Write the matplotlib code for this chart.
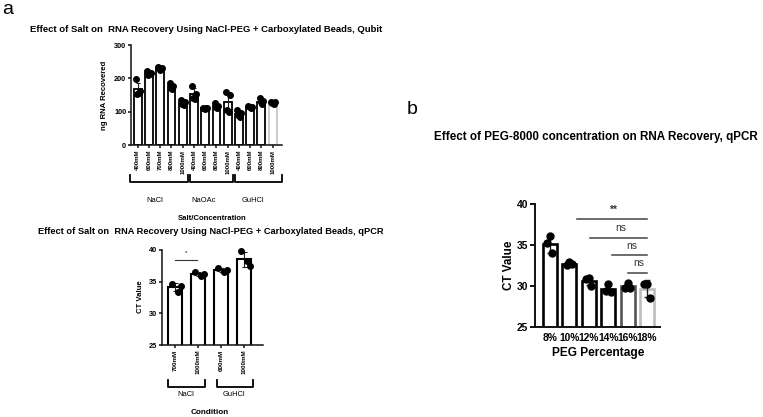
import numpy as np
import matplotlib
matplotlib.use("Agg")
import matplotlib.pyplot as plt
import matplotlib.transforms as mtransforms

plt.rcParams['font.family'] = ['Liberation Sans', 'DejaVu Sans']

# ---------------- data ----------------
qubit_labels = ["400mM", "600mM", "700mM", "800mM", "1000mM",
                "400mM", "600mM", "800mM", "1000mM",
                "400mM", "600mM", "800mM", "1000mM"]
qubit_groups = ["NaCl", "NaOAc", "GuHCl"]
qubit_points = [
    [197, 162, 152, 157],
    [221, 216, 210, 212],
    [235, 230, 224, 227],
    [186, 178, 172, 168],
    [135, 128, 124, 121],
    [178, 152, 140, 138],
    [112, 110, 108, 110],
    [125, 118, 115, 112],
    [158, 150, 105, 100],
    [104, 95, 90, 85],
    [118, 115, 113, 112],
    [140, 132, 128, 122],
    [130, 128, 126, 124],
]

qpcr_labels = ["700mM", "1000mM", "600mM", "1000mM"]
qpcr_groups = ["NaCl", "GuHCl"]
qpcr_points = [
    [34.6, 33.4, 34.3],
    [36.6, 35.9, 36.2],
    [37.2, 36.6, 36.9],
    [39.8, 38.3, 37.5],
]

peg_labels = ["8%", "10%", "12%", "14%", "16%", "18%"]
peg_points = [
    [36.1, 35.3, 34.0],
    [32.9, 32.6, 32.7],
    [31.0, 30.8, 30.0],
    [30.3, 29.4, 29.3],
    [30.4, 29.8, 29.7],
    [30.3, 30.2, 28.5],
]
peg_sig_labels = ["**", "ns", "ns", "ns"]

# ---------------- figure ----------------
W, H = 763, 417
fig = plt.figure(figsize=(W / 100, H / 100), dpi=100)


def add_ax(x0, x1, ytop, ybot):
    return fig.add_axes([x0 / W, 1 - ybot / H, (x1 - x0) / W, (ybot - ytop) / H])


def ftext(x, y, s, **kw):
    fig.text(x / W, 1 - y / H, s, **kw)


def style(ax, lw=1.1):
    for sp in ["top", "right"]:
        ax.spines[sp].set_visible(False)
    for sp in ["left", "bottom"]:
        ax.spines[sp].set_linewidth(lw)
        ax.spines[sp].set_color("#111111")
    ax.tick_params(direction="out", width=lw, length=2.5, color="#111111", pad=1)


def draw_bars(ax, points, width, edgecolors, offsets, ms, lw, elw, cap):
    pts = [np.asarray(p, float) for p in points]
    means = [p.mean() for p in pts]
    sds = [p.std(ddof=1) for p in pts]
    x = np.arange(len(pts))
    ax.bar(x, means, width=width, color="white", edgecolor=edgecolors,
           linewidth=lw, zorder=2)
    for i, p in enumerate(pts):
        ax.errorbar(x[i], means[i], yerr=sds[i], fmt="none", ecolor="#222222",
                    elinewidth=elw, capsize=cap, capthick=elw, zorder=3)
        offs = offsets[:len(p)]
        ax.plot(x[i] + np.array(offs), p, "o", color="black", ms=ms,
                mec="black", zorder=4, clip_on=False)
    return x


def bracket(ax, x0, x1, y, yup, lw=1.1):
    tr = mtransforms.blended_transform_factory(ax.transData, ax.transAxes)
    ax.plot([x0, x0, x1, x1], [yup, y, y, yup], color="black", lw=lw,
            transform=tr, clip_on=False)


# ---- panel labels ----
ftext(8, 9, "a", fontsize=14, ha="center", va="center")
ftext(412, 110, "b", fontsize=14, ha="center", va="center")

# ---- Qubit chart ----
ax1 = add_ax(131, 282, 45, 145)
style(ax1)
x1 = draw_bars(ax1, qubit_points, 0.7,
               ["black"] * 12 + ["#c8c8c8"],
               [-0.17, 0.17, -0.06, 0.08], 4.0, 1.3, 0.8, 1.6)
ax1.set_xlim(-0.6, 12.83)
ax1.set_ylim(0, 300)
ax1.set_yticks([0, 100, 200, 300])
ax1.set_xticks(x1)
ax1.set_xticklabels(qubit_labels, rotation=90, fontsize=4.3, fontweight="bold",
                    va="top", ha="center")
for t in ax1.get_yticklabels():
    t.set_fontsize(5.3)
    t.set_fontweight("bold")
ftext(206, 29, "Effect of Salt on  RNA Recovery Using NaCl-PEG + Carboxylated Beads, Qubit",
      fontsize=6.8, fontweight="bold", ha="center", va="center")
ftext(105, 95, "ng RNA Recovered", fontsize=5.6, fontweight="bold",
      rotation=90, ha="center", va="center")
for (a, b) in [(-0.68, 4.48), (4.65, 8.47), (8.65, 12.83)]:
    bracket(ax1, a, b, -0.37, -0.30, lw=1.3)
for xc, g in zip([155, 204, 253], qubit_groups):
    ftext(xc, 200, g, fontsize=5.4, ha="center", va="center")
ftext(212, 218, "Salt/Concentration", fontsize=5.6, fontweight="bold",
      ha="center", va="center")

# ---- qPCR salt chart ----
ax2 = add_ax(161.7, 263, 250, 345)
style(ax2)
x2 = draw_bars(ax2, qpcr_points, 0.58, ["black"] * 4,
               [-0.12, 0.12, 0.25], 4.0, 1.5, 0.8, 1.8)
ax2.set_xlim(-0.58, 3.83)
ax2.set_ylim(25, 40)
ax2.set_yticks([25, 30, 35, 40])
ax2.set_xticks(x2)
ax2.set_xticklabels(qpcr_labels, rotation=90, fontsize=4.5, fontweight="bold",
                    va="top", ha="center")
for t in ax2.get_yticklabels():
    t.set_fontsize(5.3)
    t.set_fontweight("bold")
ax2.plot([0, 0.95], [38.4, 38.4], color="#333333", lw=0.8, clip_on=False)
ax2.text(0.47, 39.6, "*", fontsize=4.5, ha="center", va="center")
ftext(211, 232, "Effect of Salt on  RNA Recovery Using NaCl-PEG + Carboxylated Beads, qPCR",
      fontsize=6.65, fontweight="bold", ha="center", va="center")
ftext(140, 297, "CT Value", fontsize=5.6, fontweight="bold",
      rotation=90, ha="center", va="center")
for (a, b) in [(-0.3, 1.3), (1.83, 3.39)]:
    bracket(ax2, a, b, -0.44, -0.37, lw=1.3)
for xc, g in zip([186, 234], qpcr_groups):
    ftext(xc, 394, g, fontsize=5.4, ha="center", va="center")
ftext(210, 412, "Condition", fontsize=5.9, fontweight="bold",
      ha="center", va="center")

# ---- PEG chart ----
ax3 = add_ax(535, 660, 204, 327)
style(ax3, lw=1.4)
x3 = draw_bars(ax3, peg_points, 0.72,
               ["black", "black", "black", "black", "#555555", "#bdbdbd"],
               [0.0, -0.13, 0.13], 5.0, 1.9, 1.0, 2.2)
ax3.set_xlim(-0.77, 5.67)
ax3.set_ylim(25, 40)
ax3.set_yticks([25, 30, 35, 40])
ax3.set_xticks(x3)
ax3.set_xticklabels(peg_labels, fontsize=7.4, fontweight="bold")
ax3.tick_params(axis="x", length=0, pad=4)
ax3.tick_params(axis="y", length=3.5, pad=1.5)
for t in ax3.get_yticklabels():
    t.set_fontsize(7.4)
    t.set_fontweight("bold")
sig_x0 = [1.4, 2.05, 3.2, 4.0]
sig_y = [38.17, 35.9, 33.76, 31.6]
for xs, ys, lab in zip(sig_x0, sig_y, peg_sig_labels):
    ax3.plot([xs, 5.0], [ys, ys], color="#444444", lw=1.1, clip_on=False)
    ax3.text((xs + 5.0) / 2 + 0.1, ys + 0.55, lab, fontsize=7.4, ha="center",
             va="bottom", color="#333333",
             fontweight="bold" if lab == "**" else "normal")
ftext(596, 137, "Effect of PEG-8000 concentration on RNA Recovery, qPCR",
      fontsize=8.4, fontweight="bold", ha="center", va="center")
ftext(509, 265, "CT Value", fontsize=8.4, fontweight="bold",
      rotation=90, ha="center", va="center")
ftext(598, 353, "PEG Percentage", fontsize=8.6, fontweight="bold",
      ha="center", va="center")

fig.savefig("out.png", dpi=100)
